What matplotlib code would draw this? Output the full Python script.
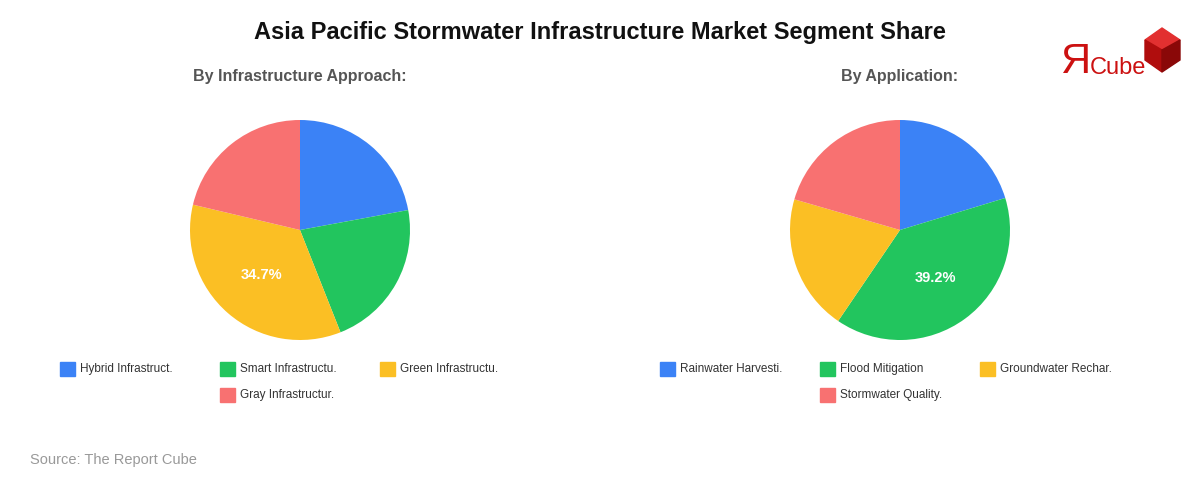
import matplotlib
matplotlib.use("Agg")
import matplotlib.pyplot as plt
from matplotlib.patches import Rectangle, Polygon

plt.rcParams['font.family'] = ['Liberation Sans', 'DejaVu Sans']

colors = ['#3b82f6', '#22c55e', '#fbbf24', '#f87171']

approach_labels = ['Hybrid Infrastruct.', 'Smart Infrastructu.', 'Green Infrastructu.', 'Gray Infrastructur.']
approach_values = [22.1, 21.9, 34.7, 21.3]

app_labels = ['Rainwater Harvesti.', 'Flood Mitigation', 'Groundwater Rechar.', 'Stormwater Quality.']
app_values = [20.3, 39.2, 20.0, 20.5]

W, H = 1200, 480
fig = plt.figure(figsize=(12, 4.8), dpi=100)
fig.patch.set_facecolor('white')


def fx(x):
    return x / W


def fy(y):
    return 1 - y / H


def draw_pie(cx, subtitle, labels, values, legend_x):
    r = 110
    ax = fig.add_axes([fx(cx - r), fy(230 + r), 2 * r / W, 2 * r / H])
    big = max(values)
    wedges, texts, autotexts = ax.pie(
        values, colors=colors, startangle=90, counterclock=False,
        autopct=lambda p: f'{p:.1f}%' if abs(p - big) < 0.05 else '',
        pctdistance=0.54, radius=1.0,
        wedgeprops=dict(edgecolor='none', linewidth=0))
    for t in autotexts:
        t.set_color('white')
        t.set_fontweight('bold')
        t.set_fontsize(10.5)
    ax.set_aspect('equal')
    ax.set_xlim(-1, 1)
    ax.set_ylim(-1, 1)
    fig.text(fx(cx), fy(77), subtitle, ha='center', va='center',
             fontsize=11.5, fontweight='bold', color='#555555')
    # legend
    for i, lab in enumerate(labels):
        col = i % 3
        row = i // 3
        x = legend_x + col * 160
        if row == 1:
            x = legend_x + 160
        y = 369 + row * 26
        fig.patches.append(Rectangle((fx(x - 8), fy(y + 7)), 15 / W, 14 / H,
                                     transform=fig.transFigure, color=colors[i]))
        fig.text(fx(x + 12), fy(y), lab, ha='left', va='center',
                 fontsize=8.5, color='#333333')


draw_pie(300, 'By Infrastructure Approach:', approach_labels, approach_values, 68)
draw_pie(900, 'By Application:', app_labels, app_values, 668)

fig.text(0.5, fy(33), 'Asia Pacific Stormwater Infrastructure Market Segment Share',
         ha='center', va='center', fontsize=17, fontweight='bold', color='#111111')
fig.text(fx(30), fy(460), 'Source: The Report Cube', ha='left', va='center',
         fontsize=10.5, color='#999999')

# logo
fig.text(fx(1060), fy(62), 'Я', ha='left', va='center', fontsize=30, color='#cc1111')
fig.text(fx(1090), fy(68), 'Cube', ha='left', va='center', fontsize=17, color='#cc1111')
top = [(1145, 40), (1162, 28), (1180, 40), (1162, 50)]
left = [(1145, 40), (1162, 50), (1162, 72), (1145, 60)]
right = [(1162, 50), (1180, 40), (1180, 60), (1162, 72)]
for pts, c in [(top, '#e23030'), (left, '#b00d0d'), (right, '#8a0808')]:
    fig.patches.append(Polygon([(fx(a), fy(b)) for a, b in pts], closed=True,
                               transform=fig.transFigure, color=c))

fig.savefig('out.png', dpi=100)
